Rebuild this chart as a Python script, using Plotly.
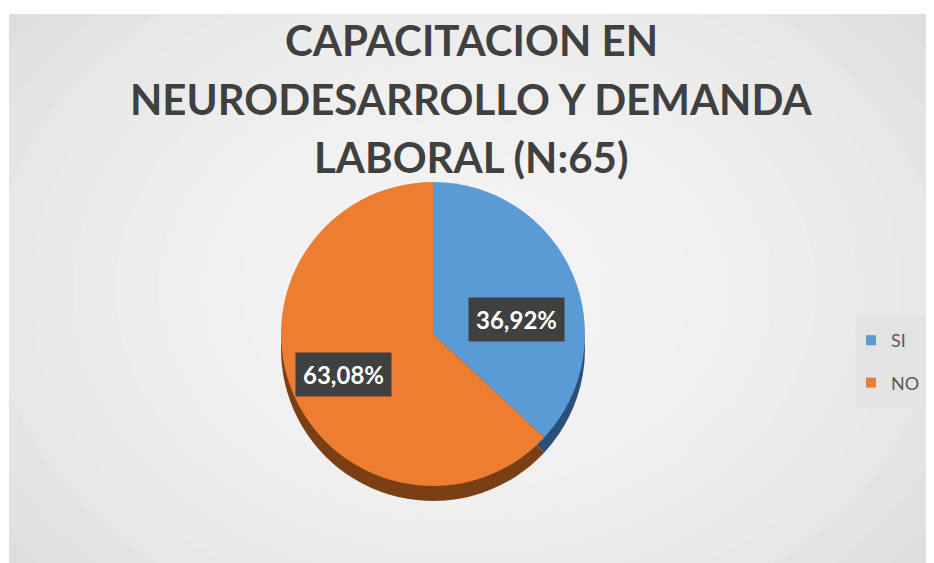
import math
import plotly.graph_objects as go

labels = ["SI", "NO"]
values = [24, 41]  # N = 65
colors = ["#5b9bd5", "#ed7d31"]
side_colors = ["#2a4f78", "#7a3f14"]
title_lines = ["CAPACITACION EN", "NEURODESARROLLO Y DEMANDA", "LABORAL (N:65)"]

W, H = 934, 563
OFF = 8  # page body margin: screen = figure px + OFF


def PX(X):
    return (X - OFF) / W


def PY(Y):
    return 1 - (Y - OFF) / H


cx, cy, r = 433, 334, 152   # screen pixel centre / radius of pie top
depth = 15


def dom(cxp, cyp, rad):
    return dict(x=[PX(cxp - rad), PX(cxp + rad)], y=[PY(cyp + rad), PY(cyp - rad)])


fig = go.Figure()

# side (thickness) pie
fig.add_trace(go.Pie(
    labels=labels, values=values, sort=False, direction="clockwise", rotation=0,
    marker=dict(colors=side_colors, line=dict(width=0)),
    textinfo="none", hoverinfo="skip", showlegend=False,
    domain=dom(cx, cy + depth, r),
))
# main pie
fig.add_trace(go.Pie(
    labels=labels, values=values, sort=False, direction="clockwise", rotation=0,
    marker=dict(colors=colors, line=dict(width=0)),
    textinfo="none", showlegend=False,
    domain=dom(cx, cy, r),
))
# legend entries (square markers, spaced apart)
for lab, col in zip(labels, colors):
    fig.add_trace(go.Scatter(
        x=[None], y=[None], mode="markers", name=lab, legendgroup=lab,
        marker=dict(symbol="square", size=10, color=col), showlegend=True,
    ))

# labels in dark boxes
total = sum(values)
acc = 0
annotations = []
for lab, v in zip(labels, values):
    mid = (acc + v / 2) / total * 2 * math.pi
    acc += v
    px = cx - 3 + 0.62 * r * math.sin(mid)
    py = cy - 0.46 * r * math.cos(mid) + 13
    pct = f"{v / total * 100:.2f}".replace(".", ",") + "%"
    annotations.append(dict(
        x=PX(px), y=PY(py), xref="paper", yref="paper", showarrow=False,
        text=f"<b>{pct}</b>", bgcolor="#404040", borderpad=7,
        font=dict(family="Lato, Open Sans, sans-serif", size=24, color="white"),
    ))

# title, one line per annotation for exact line spacing
for i, line in enumerate(title_lines):
    annotations.append(dict(
        x=PX(W / 2 + 4), y=PY(40 + 59 * i - (1 if i == 2 else 0)), xref="paper", yref="paper",
        xanchor="center", yanchor="middle", showarrow=False,
        text=f"<b>{line}</b>",
        font=dict(family="Lato, sans-serif", size=42, color="#404040"),
    ))

shapes = [
    dict(type="rect", xref="paper", yref="paper", x0=PX(9), x1=1.0, y0=0, y1=PY(14),
         fillcolor="#d6d6d6", line=dict(width=0), layer="below"),
]
# soft radial brightening toward centre
n = 14
for i in range(n):
    s = 1.15 - i * 0.075
    shapes.append(dict(type="circle", xref="paper", yref="paper",
                       x0=0.49 - 0.6 * s, x1=0.49 + 0.6 * s, y0=0.5 - 0.75 * s, y1=0.5 + 0.75 * s,
                       fillcolor="white", opacity=0.11, line=dict(width=0), layer="below"))
shapes.append(dict(type="rect", xref="paper", yref="paper", x0=PX(857), x1=PX(932),
                   y0=PY(408), y1=PY(316), fillcolor="#e3e3e3", line=dict(width=0),
                   layer="below"))

fig.update_layout(
    width=W, height=H, margin=dict(l=0, r=0, t=0, b=0),
    paper_bgcolor="white", plot_bgcolor="rgba(0,0,0,0)",
    separators=",.",
    xaxis=dict(visible=False), yaxis=dict(visible=False),
    showlegend=True,
    legend=dict(x=PX(851), y=PY(322), xanchor="left", yanchor="top",
                bgcolor="rgba(0,0,0,0)", tracegroupgap=16,
                font=dict(family="Lato, Open Sans, sans-serif", size=18, color="#595959")),
    annotations=annotations, shapes=shapes,
)

fig.write_html("out.html")
